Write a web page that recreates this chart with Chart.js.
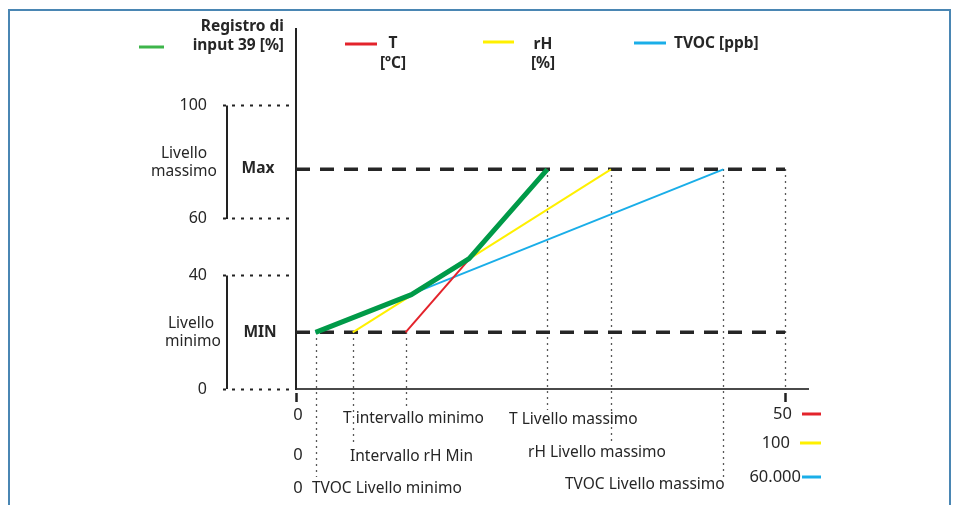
<!DOCTYPE html>
<html>
<head>
    <title>Registro di input 39</title>
    <style>
        body {
            margin: 0;
            background-color: #fff;
        }
        .frame {
            position: absolute;
            left: 8px;
            top: 9px;
            width: 943px;
            height: 600px;
            border: 2px solid #4a86b3;
            box-sizing: border-box;
        }
        .wrap {
            position: absolute;
            left: 0;
            top: 0;
            width: 955px;
            height: 505px;
        }
    </style>
</head>
<body>
    <div class="frame"></div>
    <div class="wrap"><canvas id="chart"></canvas></div>

    <script src="https://cdn.jsdelivr.net/npm/chart.js"></script>
    <script>
        // values (x in T units 0..50, y in % of register)
        const yTicks = [0, 40, 60, 100];
        const minLevel = 20;
        const maxLevel = 77.5;
        const xEnd = 50;
        const tempX = [11.2, 25.7];
        const humX = [5.8, 32.2];
        const tvocX = [2.0, 43.7];
        const inputX = [2.0, 11.8, 17.7, 25.7];
        const inputY = [20, 33.3, 46, 77.5];

        const seriesNames = ['Registro di\ninput 39 [%]', 'T\n[ºC]', 'rH\n[%]', 'TVOC [ppb]'];
        const rangeStarts = ['0', '0', '0'];
        const rangeEnds = ['50', '100', '60.000'];
        const minLabels = ['T intervallo minimo', 'Intervallo rH Min', 'TVOC Livello minimo'];
        const maxLabels = ['T Livello massimo', 'rH Livello massimo', 'TVOC Livello massimo'];

        const FONT = '"Noto Sans", "Open Sans", sans-serif';
        const INK = '#262626';
        const GREEN = '#009a48', RED = '#e3232b', YELLOW = '#fff000', BLUE = '#1aaee8';

        const pts = (xs, ys) => xs.map((x, i) => ({ x: x, y: ys[i] }));

        const overlay = {
            id: 'overlay',
            beforeDatasetsDraw(chart) {
                const { ctx, scales: { x, y } } = chart;
                const starts = [tempX[0], humX[0], tvocX[0]];
                const ends = [tempX[1], humX[1], tvocX[1]];
                const startBottom = [408, 445, 477];
                const endBottom = [410, 445, 477];
                ctx.save();
                ctx.strokeStyle = '#222';
                ctx.lineWidth = 1.3;
                ctx.setLineDash([1.5, 4.5]);
                const drop = (v, level, bottom) => {
                    const px = Math.round(x.getPixelForValue(v)) + 0.5;
                    ctx.beginPath();
                    ctx.moveTo(px, y.getPixelForValue(level));
                    ctx.lineTo(px, bottom);
                    ctx.stroke();
                };
                starts.forEach((v, i) => drop(v, minLevel, startBottom[i]));
                ends.forEach((v, i) => drop(v, maxLevel, endBottom[i]));
                drop(xEnd, maxLevel, y.getPixelForValue(0));
                ctx.restore();
            },
            afterDraw(chart) {
                const { ctx, scales: { x, y } } = chart;
                ctx.save();
                ctx.fillStyle = INK;
                ctx.textBaseline = 'middle';

                // brackets beside the y ticks
                ctx.strokeStyle = '#222';
                ctx.lineWidth = 2;
                [[100, 60], [40, 0]].forEach(([a, b]) => {
                    ctx.beginPath();
                    ctx.moveTo(227, y.getPixelForValue(a));
                    ctx.lineTo(227, y.getPixelForValue(b));
                    ctx.stroke();
                });

                ctx.textAlign = 'center';
                ctx.font = '15.5px ' + FONT;
                const midMax = (y.getPixelForValue(100) + y.getPixelForValue(60)) / 2;
                const midMin = (y.getPixelForValue(40) + y.getPixelForValue(0)) / 2;
                ctx.fillText('Livello', 184, midMax - 9);
                ctx.fillText('massimo', 184, midMax + 9);
                ctx.fillText('Livello', 191, midMin - 9);
                ctx.fillText('minimo', 193, midMin + 9);
                ctx.font = 'bold 15.5px ' + FONT;
                ctx.fillText('Max', 258, y.getPixelForValue(maxLevel) - 1);
                ctx.fillText('MIN', 260, y.getPixelForValue(minLevel));

                // rows under the x axis
                const rowStartY = [415, 455, 488];
                const minLeft = [343, 350, 312], minY = [419, 457, 489];
                const maxLeft = [509, 528, 565], maxY = [420, 453, 485];
                const endRight = [792, 790, 801], endY = [414, 443, 477];
                const rowColors = [RED, YELLOW, BLUE];
                rangeStarts.forEach((t, i) => {
                    ctx.font = '16.5px ' + FONT;
                    ctx.textAlign = 'center';
                    ctx.fillText(t, x.getPixelForValue(0) + 2, rowStartY[i]);
                    ctx.textAlign = 'right';
                    ctx.fillText(rangeEnds[i], endRight[i], endY[i]);
                    ctx.font = '15.5px ' + FONT;
                    ctx.textAlign = 'left';
                    ctx.fillText(minLabels[i], minLeft[i], minY[i]);
                    ctx.fillText(maxLabels[i], maxLeft[i], maxY[i]);
                    ctx.strokeStyle = rowColors[i];
                    ctx.lineWidth = 3;
                    ctx.beginPath();
                    ctx.moveTo(Math.min(endRight[i] + 10, 802), endY[i]);
                    ctx.lineTo(821, endY[i]);
                    ctx.stroke();
                });

                // legend
                ctx.font = 'bold 15.5px ' + FONT;
                const legendLines = [[139, 164, 47], [345, 377, 44], [483, 514, 42], [634, 666, 43]];
                const legendColors = ['#3db54a', RED, YELLOW, BLUE];
                legendLines.forEach(([x1, x2, ly], i) => {
                    ctx.strokeStyle = legendColors[i];
                    ctx.lineWidth = 3;
                    ctx.beginPath();
                    ctx.moveTo(x1, ly);
                    ctx.lineTo(x2, ly);
                    ctx.stroke();
                });
                const g = seriesNames[0].split('\n');
                ctx.textAlign = 'right';
                ctx.fillText(g[0], 284, 27);
                ctx.fillText(g[1], 284, 46);
                ctx.textAlign = 'center';
                const t = seriesNames[1].split('\n');
                ctx.fillText(t[0], 393, 44);
                ctx.fillText(t[1], 393, 64);
                const h = seriesNames[2].split('\n');
                ctx.fillText(h[0], 543, 45);
                ctx.fillText(h[1], 543, 64);
                ctx.textAlign = 'left';
                ctx.fillText(seriesNames[3], 674, 44);
                ctx.restore();
            }
        };

        const levelLine = (label, v) => ({
            label: label,
            data: pts([0, xEnd], [v, v]),
            borderColor: '#262626',
            borderWidth: 3.5,
            borderDash: [14, 10]
        });

        // first dataset is painted on top
        new Chart(document.getElementById('chart'), {
            type: 'line',
            data: {
                datasets: [
                    { label: 'Registro di input 39 [%]', data: pts(inputX, inputY), borderColor: GREEN, borderWidth: 5, borderJoinStyle: 'round' },
                    { label: 'T [ºC]', data: pts(tempX, [minLevel, maxLevel]), borderColor: RED, borderWidth: 2 },
                    { label: 'rH [%]', data: pts(humX, [minLevel, maxLevel]), borderColor: YELLOW, borderWidth: 2 },
                    { label: 'TVOC [ppb]', data: pts(tvocX, [minLevel, maxLevel]), borderColor: BLUE, borderWidth: 2 },
                    levelLine('MIN', minLevel),
                    levelLine('Max', maxLevel)
                ]
            },
            options: {
                responsive: true,
                maintainAspectRatio: false,
                animation: false,
                events: [],
                elements: { point: { radius: 0 }, line: { tension: 0 } },
                layout: { padding: { left: 0, right: 147, top: 29, bottom: 0 } },
                plugins: { legend: { display: false }, tooltip: { enabled: false } },
                scales: {
                    x: {
                        type: 'linear',
                        min: 0,
                        max: 52.35,
                        afterBuildTicks: s => { s.ticks = [{ value: 0 }, { value: xEnd }]; },
                        afterFit: s => { s.height = 116; },
                        border: { color: '#4a4a4a', width: 2 },
                        grid: { drawOnChartArea: false, tickLength: 13, tickWidth: 2.5, tickColor: '#222', tickBorderDash: [0, 3, 10, 40] },
                        ticks: { display: false }
                    },
                    y: {
                        min: 0,
                        max: 127,
                        afterBuildTicks: s => { s.ticks = yTicks.map(v => ({ value: v })); },
                        afterFit: s => { s.width = 296; },
                        border: { color: '#222', width: 2 },
                        grid: { drawOnChartArea: false, tickLength: 73, tickWidth: 2, tickColor: '#222', tickBorderDash: [3, 6] },
                        ticks: { padding: 16, color: INK, font: { family: FONT, size: 16 } }
                    }
                }
            },
            plugins: [overlay]
        });
    </script>
</body>
</html>
